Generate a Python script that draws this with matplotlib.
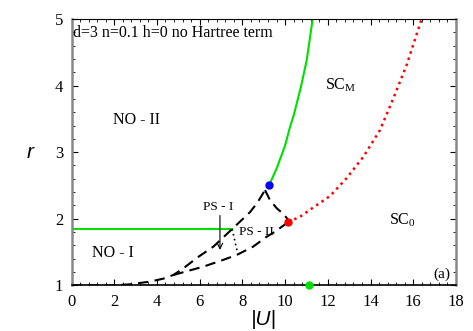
import numpy as np
import matplotlib
matplotlib.use("Agg")
import matplotlib.pyplot as plt
from matplotlib.ticker import MultipleLocator

# ── Phase boundaries ──────────────────────────────────────────────────────────
# NO-I / NO-II boundary (green, horizontal)
ho_u = [0.0, 7.52]
ho_r = [1.845, 1.845]

# NO-II / SC_M boundary (green curve from tricritical point)
gr_u = [9.26, 9.61, 10.0, 10.23, 10.4, 10.74, 11.01, 11.29]
gr_r = [2.51, 2.76, 3.10, 3.38, 3.55, 3.98, 4.38, 5.00]

# SC_M / SC_0 boundary (red dotted)
rd_u = [10.15, 10.7, 11.32, 12.1, 12.88, 13.66, 14.44, 15.07, 15.69, 16.39]
rd_r = [1.95, 2.03, 2.17, 2.34, 2.61, 2.93, 3.33, 3.81, 4.31, 5.00]

# PS upper branch (black dashed)
up_u = [0.0, 2.0, 2.74, 3.67, 4.3, 4.77, 5.24, 5.86, 6.64, 7.52, 8.36, 8.7, 9.06]
up_r = [1.0, 1.0, 1.015, 1.055, 1.10, 1.155, 1.255, 1.41, 1.58, 1.845, 2.10, 2.24, 2.43]

# PS lower branch (black dashed)
lo_u = [4.77, 5.5, 6.17, 7.0, 7.73, 8.5, 9.14, 9.5, 10.15]
lo_r = [1.155, 1.22, 1.28, 1.37, 1.455, 1.58, 1.73, 1.80, 1.95]

# peak -> red point (black dashed)
pk_u = [9.06, 9.29, 9.6, 9.92, 10.08, 10.15]
pk_r = [2.43, 2.28, 2.16, 2.07, 2.01, 1.95]

# PS-I / PS-II separator (black dotted)
dt_u = [7.52, 7.78]
dt_r = [1.845, 1.48]

blue_pt = (9.26, 2.51)
red_pt = (10.15, 1.95)
green_pt = (11.12, 1.0)

plt.rcParams["font.family"] = ["Liberation Serif"]

fig = plt.figure(figsize=(4.73, 3.31), dpi=100)
ax = fig.add_axes([71.5 / 473, 1 - 285.3 / 331, (456 - 71.5) / 473, (285.3 - 19) / 331])

GREEN = "#00e000"
ax.plot(ho_u, ho_r, color=GREEN, lw=1.5)
ax.plot(gr_u, gr_r, color=GREEN, lw=1.5)
ax.plot(rd_u, rd_r, color="red", lw=1.8, ls=(0, (1, 1.6)))
ax.plot(up_u, up_r, color="black", lw=1.5, ls=(0, (5, 3)))
ax.plot(lo_u, lo_r, color="black", lw=1.5, ls=(0, (5, 3)))
ax.plot(pk_u, pk_r, color="black", lw=1.5, ls=(0, (5, 3)))
ax.plot(dt_u, dt_r, color="black", lw=1.2, ls=(0, (1, 2)))

ax.plot(*blue_pt, "o", color="blue", ms=5, zorder=5)
ax.plot(*red_pt, "o", color="red", ms=5, zorder=5)
ax.plot(*green_pt, "o", color=GREEN, ms=5, zorder=5, clip_on=False)

ax.annotate("", xy=(6.95, 1.49), xytext=(6.95, 2.09),
            arrowprops=dict(arrowstyle="->", color="black", lw=0.8))

ax.text(0.05, 4.79, "d=3 n=0.1 h=0 no Hartree term", fontsize=11.5, va="center")
ax.text(3.03, 3.49, "NO - II", fontsize=11.5, ha="center", va="center")
ax.text(1.94, 1.49, "NO - I", fontsize=11.5, ha="center", va="center")
ax.text(6.86, 2.18, "PS - I", fontsize=9.5, ha="center", va="center")
ax.text(8.64, 1.80, "PS - II", fontsize=9.5, ha="center", va="center")
ax.text(12.6, 4.0, "SC$_\\mathregular{M}$", fontsize=11.5, ha="center", va="center")
ax.text(15.5, 1.98, "SC$_\\mathregular{0}$", fontsize=11.5, ha="center", va="center")
ax.text(17.75, 1.17, "(a)", fontsize=11, ha="right", va="center")

ax.set_xlim(0, 18)
ax.set_ylim(1, 5)
ax.xaxis.set_major_locator(MultipleLocator(2))
ax.xaxis.set_minor_locator(MultipleLocator(0.4))
ax.yaxis.set_major_locator(MultipleLocator(1))
ax.yaxis.set_minor_locator(MultipleLocator(0.2))
ax.tick_params(which="both", direction="in", top=True, right=True, labelsize=12)
ax.tick_params(which="major", length=4, width=0.8, pad=6)
ax.tick_params(which="minor", length=2, width=0.6)

for side in ("left", "right"):
    ax.spines[side].set_color("#888888")
    ax.spines[side].set_linewidth(1.8)
ax.spines["bottom"].set_linewidth(1.2)
ax.spines["top"].set_linewidth(0.8)

ax.set_xlabel("|U|", fontsize=15, style="italic", family="Liberation Sans", labelpad=0)
ax.set_ylabel("r", fontsize=15, style="italic", family="Liberation Sans", rotation=0,
              labelpad=18, va="center")

fig.savefig("out.png", dpi=100)
